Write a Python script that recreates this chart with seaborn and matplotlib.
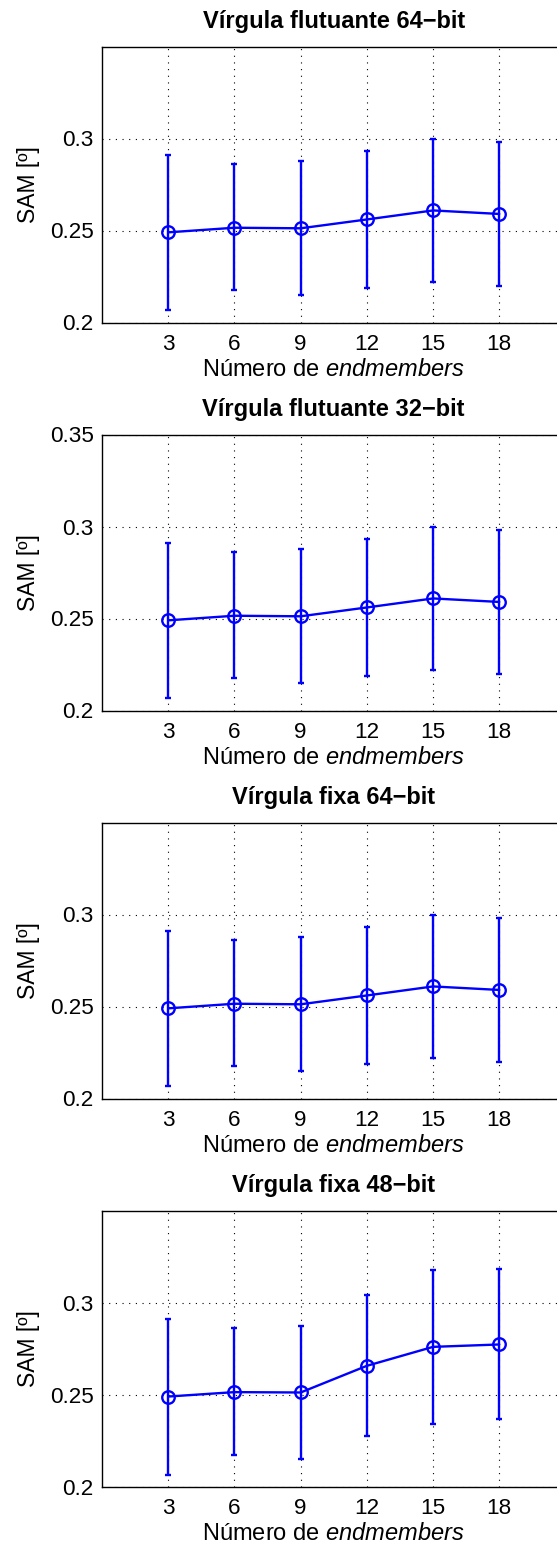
import numpy as np
import pandas as pd
import matplotlib
matplotlib.use("Agg")
import matplotlib.pyplot as plt
import seaborn as sns

sns.set_style("white")
plt.rcParams['font.family'] = ['Liberation Sans', 'DejaVu Sans']
plt.rcParams['mathtext.fontset'] = 'custom'
plt.rcParams['mathtext.rm'] = 'Liberation Sans'
plt.rcParams['mathtext.it'] = 'Liberation Sans:italic'
plt.rcParams['text.color'] = 'black'
plt.rcParams['axes.labelcolor'] = 'black'
plt.rcParams['xtick.color'] = 'black'
plt.rcParams['ytick.color'] = 'black'

endmembers = [3, 6, 9, 12, 15, 18]

titles = ["Vírgula flutuante 64\u2212bit", "Vírgula flutuante 32\u2212bit",
          "Vírgula fixa 64\u2212bit", "Vírgula fixa 48\u2212bit"]

mean_fl64 = [0.2490, 0.2515, 0.2512, 0.2560, 0.2609, 0.2590]
low_fl64 = [0.2066, 0.2175, 0.2150, 0.2186, 0.2219, 0.2199]
high_fl64 = [0.2913, 0.2861, 0.2877, 0.2933, 0.3000, 0.2980]

mean_fl32 = [0.2490, 0.2515, 0.2512, 0.2560, 0.2609, 0.2590]
low_fl32 = [0.2066, 0.2175, 0.2150, 0.2186, 0.2219, 0.2199]
high_fl32 = [0.2913, 0.2861, 0.2877, 0.2933, 0.3000, 0.2980]

mean_fx64 = [0.2490, 0.2515, 0.2512, 0.2560, 0.2609, 0.2590]
low_fx64 = [0.2066, 0.2175, 0.2150, 0.2186, 0.2219, 0.2199]
high_fx64 = [0.2913, 0.2861, 0.2877, 0.2933, 0.3000, 0.2980]

mean_fx48 = [0.2490, 0.2514, 0.2512, 0.2657, 0.2760, 0.2773]
low_fx48 = [0.2063, 0.2173, 0.2149, 0.2274, 0.2341, 0.2366]
high_fx48 = [0.2914, 0.2861, 0.2876, 0.3044, 0.3179, 0.3183]

yticks_sets = [[0.2, 0.25, 0.3], [0.2, 0.25, 0.3, 0.35],
               [0.2, 0.25, 0.3], [0.2, 0.25, 0.3]]
ytick_labels = [["0.2", "0.25", "0.3"], ["0.2", "0.25", "0.3", "0.35"],
                ["0.2", "0.25", "0.3"], ["0.2", "0.25", "0.3"]]

series = [(mean_fl64, low_fl64, high_fl64), (mean_fl32, low_fl32, high_fl32),
          (mean_fx64, low_fx64, high_fx64), (mean_fx48, low_fx48, high_fx48)]

W, H = 557, 1549
fig = plt.figure(figsize=(W / 100, H / 100), dpi=100)

left_px, right_px = 102.0, 565.5
bottoms_px = [322.5, 710.5, 1098.5, 1486.7]
height_px = 276.0

for i, (m, lo, hi) in enumerate(series):
    ax = fig.add_axes([left_px / W, (H - bottoms_px[i]) / H,
                       (right_px - left_px) / W, height_px / H])
    df = pd.DataFrame({"x": endmembers, "y": m})
    yerr = np.array([np.array(m) - np.array(lo), np.array(hi) - np.array(m)])
    ax.errorbar(endmembers, m, yerr=yerr, fmt='none', ecolor='#0000ff',
                elinewidth=1.7, capsize=2.5, capthick=1.7, zorder=3)
    sns.lineplot(data=df, x="x", y="y", ax=ax, color='#0000ff', linewidth=1.7,
                 marker='o', markersize=9, markerfacecolor='none',
                 markeredgecolor='#0000ff', markeredgewidth=1.7, zorder=4)
    ax.set_xlim(0, 21)
    ax.set_ylim(0.2, 0.35)
    ax.set_xticks(endmembers)
    ax.set_xticklabels([str(v) for v in endmembers])
    ax.set_yticks(yticks_sets[i])
    ax.set_yticklabels(ytick_labels[i])
    ax.grid(True, linestyle=(0, (1, 5)), color='black', linewidth=0.8)
    ax.tick_params(direction='in', length=4, width=0.8, labelsize=16.2,
                   colors='black')
    ax.tick_params(axis='x', pad=8)
    ax.tick_params(axis='y', pad=6)
    for s in ax.spines.values():
        s.set_color('black')
        s.set_linewidth(1.0)
    ax.set_title(titles[i], fontsize=17, fontweight='bold', pad=13.5,
                 color='black')
    ax.set_xlabel("Número de $\\mathit{endmembers}$", fontsize=17,
                  labelpad=3, color='black')
    ax.set_ylabel("SAM [º]", fontsize=16.5, labelpad=7, color='black')

fig.savefig("out.png", dpi=100)
